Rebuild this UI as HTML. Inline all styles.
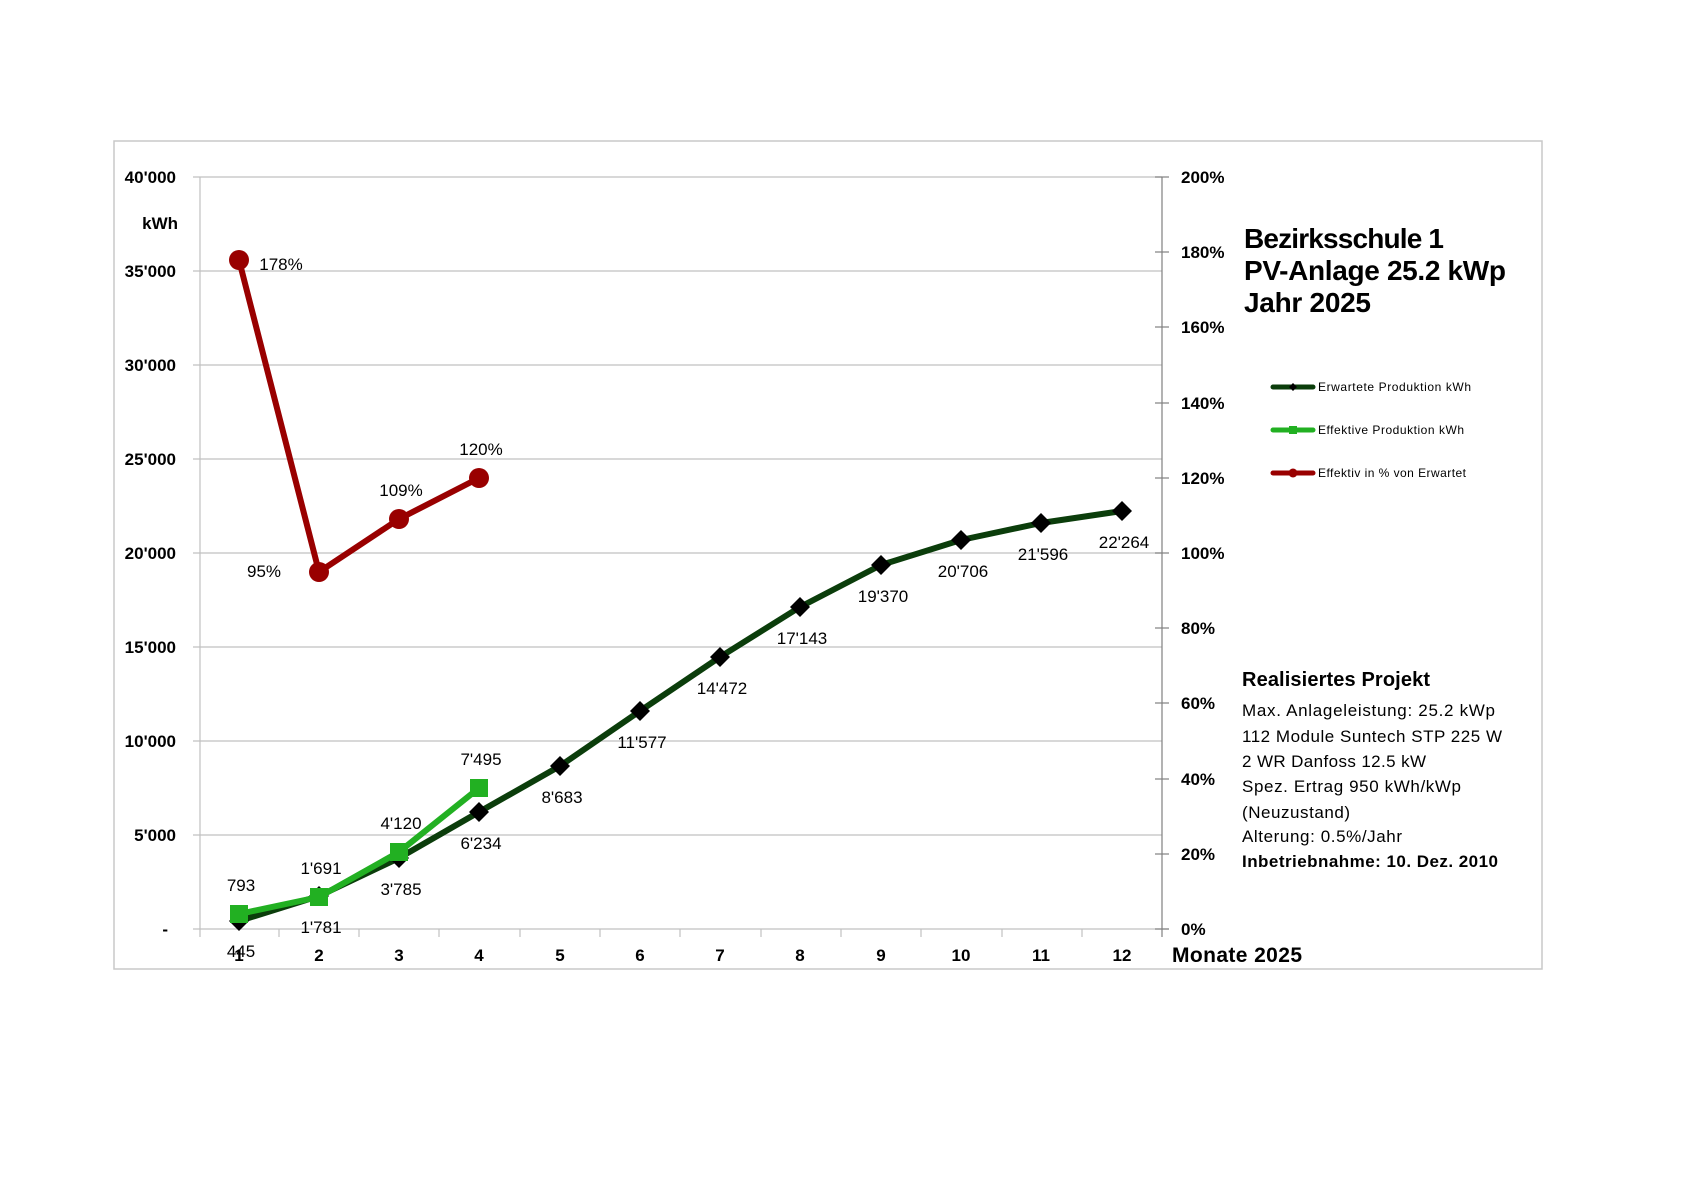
<!DOCTYPE html>
<html><head><meta charset="utf-8"><style>
html,body{margin:0;padding:0;background:#fff}
svg{display:block}
text{font-family:"Liberation Sans",sans-serif}
</style></head><body>
<svg width="1683" height="1190" viewBox="0 0 1683 1190" xmlns="http://www.w3.org/2000/svg">
<rect x="0" y="0" width="1683" height="1190" fill="#fff"/>
<rect x="114" y="141" width="1428" height="828" fill="none" stroke="#c8c8c8" stroke-width="1.5"/>
<g stroke="#c0c0c0" stroke-width="1.2">
<line x1="193" y1="177" x2="1162" y2="177"/>
<line x1="193" y1="271" x2="1162" y2="271"/>
<line x1="193" y1="365" x2="1162" y2="365"/>
<line x1="193" y1="459" x2="1162" y2="459"/>
<line x1="193" y1="553" x2="1162" y2="553"/>
<line x1="193" y1="647" x2="1162" y2="647"/>
<line x1="193" y1="741" x2="1162" y2="741"/>
<line x1="193" y1="835" x2="1162" y2="835"/>
<line x1="193" y1="929" x2="1169" y2="929"/>
<line x1="200" y1="177" x2="200" y2="937"/>
</g>
<g stroke="#c0c0c0" stroke-width="1.2">
<line x1="279" y1="929" x2="279" y2="937"/><line x1="359" y1="929" x2="359" y2="937"/><line x1="439" y1="929" x2="439" y2="937"/><line x1="520" y1="929" x2="520" y2="937"/><line x1="600" y1="929" x2="600" y2="937"/><line x1="680" y1="929" x2="680" y2="937"/><line x1="761" y1="929" x2="761" y2="937"/><line x1="841" y1="929" x2="841" y2="937"/><line x1="921" y1="929" x2="921" y2="937"/><line x1="1002" y1="929" x2="1002" y2="937"/><line x1="1082" y1="929" x2="1082" y2="937"/>
</g>
<g stroke="#808080" stroke-width="1.2">
<line x1="1162" y1="177" x2="1162" y2="937"/>
<line x1="1155" y1="177" x2="1169" y2="177"/><line x1="1155" y1="252" x2="1169" y2="252"/><line x1="1155" y1="327" x2="1169" y2="327"/><line x1="1155" y1="403" x2="1169" y2="403"/><line x1="1155" y1="478" x2="1169" y2="478"/><line x1="1155" y1="553" x2="1169" y2="553"/><line x1="1155" y1="628" x2="1169" y2="628"/><line x1="1155" y1="703" x2="1169" y2="703"/><line x1="1155" y1="779" x2="1169" y2="779"/><line x1="1155" y1="854" x2="1169" y2="854"/><line x1="1155" y1="929" x2="1169" y2="929"/>
</g>
<g font-size="17" font-weight="bold" text-anchor="end" fill="#000">
<text x="176" y="183">40'000</text>
<text x="178" y="229">kWh</text>
<text x="176" y="277">35'000</text>
<text x="176" y="371">30'000</text>
<text x="176" y="465">25'000</text>
<text x="176" y="559">20'000</text>
<text x="176" y="653">15'000</text>
<text x="176" y="747">10'000</text>
<text x="176" y="841">5'000</text>
<text x="168" y="935">-</text>
</g>
<g font-size="17" font-weight="bold" fill="#000">
<text x="1181" y="183">200%</text><text x="1181" y="258">180%</text><text x="1181" y="333">160%</text><text x="1181" y="409">140%</text><text x="1181" y="484">120%</text><text x="1181" y="559">100%</text><text x="1181" y="634">80%</text><text x="1181" y="709">60%</text><text x="1181" y="785">40%</text><text x="1181" y="860">20%</text><text x="1181" y="935">0%</text>
</g>
<g font-size="17" font-weight="bold" text-anchor="middle" fill="#000">
<text x="239" y="961">1</text><text x="319" y="961">2</text><text x="399" y="961">3</text><text x="479" y="961">4</text><text x="560" y="961">5</text><text x="640" y="961">6</text><text x="720" y="961">7</text><text x="800" y="961">8</text><text x="881" y="961">9</text><text x="961" y="961">10</text><text x="1041" y="961">11</text><text x="1122" y="961">12</text>
</g>
<text x="1172" y="962" font-size="21" font-weight="bold" textLength="130">Monate 2025</text>
<polyline fill="none" stroke="#0b3d0b" stroke-width="6" stroke-linejoin="round" points="239,921 319,896 399,858 479,812 560,766 640,711 720,657 800,607 881,565 961,540 1041,523 1122,511"/>
<g fill="#000">
<path d="M239 911l10 10-10 10-10-10z"/><path d="M319 886l10 10-10 10-10-10z"/><path d="M399 848l10 10-10 10-10-10z"/><path d="M479 802l10 10-10 10-10-10z"/><path d="M560 756l10 10-10 10-10-10z"/><path d="M640 701l10 10-10 10-10-10z"/><path d="M720 647l10 10-10 10-10-10z"/><path d="M800 597l10 10-10 10-10-10z"/><path d="M881 555l10 10-10 10-10-10z"/><path d="M961 530l10 10-10 10-10-10z"/><path d="M1041 513l10 10-10 10-10-10z"/><path d="M1122 501l10 10-10 10-10-10z"/>
</g>
<polyline fill="none" stroke="#22b022" stroke-width="6" stroke-linejoin="round" points="239,914 319,897 399,852 479,788"/>
<g fill="#22b022">
<rect x="230" y="905" width="18" height="18"/><rect x="310" y="888" width="18" height="18"/><rect x="390" y="843" width="18" height="18"/><rect x="470" y="779" width="18" height="18"/>
</g>
<polyline fill="none" stroke="#990000" stroke-width="6" stroke-linejoin="round" points="239,260 319,572 399,519 479,478"/>
<g fill="#990000">
<circle cx="239" cy="260" r="10"/><circle cx="319" cy="572" r="10"/><circle cx="399" cy="519" r="10"/><circle cx="479" cy="478" r="10"/>
</g>
<g font-size="17" fill="#000" text-anchor="middle">
<text x="241" y="957">445</text><text x="321" y="933">1'781</text><text x="401" y="895">3'785</text><text x="481" y="849">6'234</text><text x="562" y="803">8'683</text><text x="642" y="748">11'577</text><text x="722" y="694">14'472</text><text x="802" y="644">17'143</text><text x="883" y="602">19'370</text><text x="963" y="577">20'706</text><text x="1043" y="560">21'596</text><text x="1124" y="548">22'264</text>
<text x="241" y="891">793</text><text x="321" y="874">1'691</text><text x="401" y="829">4'120</text><text x="481" y="765">7'495</text>
<text x="281" y="270">178%</text><text x="264" y="577">95%</text><text x="401" y="496">109%</text><text x="481" y="455">120%</text>
</g>
<g font-size="28" font-weight="bold" fill="#000">
<text x="1244" y="248" textLength="200">Bezirksschule 1</text>
<text x="1244" y="280" textLength="262">PV-Anlage 25.2 kWp</text>
<text x="1244" y="312" textLength="127">Jahr 2025</text>
</g>
<line x1="1273" y1="387" x2="1313" y2="387" stroke="#0b3d0b" stroke-width="5" stroke-linecap="round"/>
<path d="M1293 383l4 4-4 4-4-4z" fill="#000"/>
<line x1="1273" y1="430" x2="1313" y2="430" stroke="#22b022" stroke-width="5" stroke-linecap="round"/>
<rect x="1289" y="426" width="8" height="8" fill="#22b022"/>
<line x1="1273" y1="473" x2="1313" y2="473" stroke="#990000" stroke-width="5" stroke-linecap="round"/>
<circle cx="1293" cy="473" r="4.5" fill="#990000"/>
<g font-size="12" fill="#000">
<text x="1318" y="391" textLength="153">Erwartete Produktion kWh</text>
<text x="1318" y="434" textLength="146">Effektive Produktion kWh</text>
<text x="1318" y="477" textLength="148">Effektiv in % von Erwartet</text>
</g>
<text x="1242" y="686" font-size="20" font-weight="bold" textLength="188">Realisiertes Projekt</text>
<g font-size="17" fill="#000">
<text x="1242" y="716" textLength="253">Max. Anlageleistung: 25.2 kWp</text>
<text x="1242" y="742" textLength="260">112 Module Suntech STP 225 W</text>
<text x="1242" y="767" textLength="184">2 WR Danfoss 12.5 kW</text>
<text x="1242" y="792" textLength="219">Spez. Ertrag 950 kWh/kWp</text>
<text x="1242" y="818" textLength="108">(Neuzustand)</text>
<text x="1242" y="842" textLength="160">Alterung: 0.5%/Jahr</text>
<text x="1242" y="867" font-weight="bold" textLength="256">Inbetriebnahme: 10. Dez. 2010</text>
</g>
</svg>
</body></html>
